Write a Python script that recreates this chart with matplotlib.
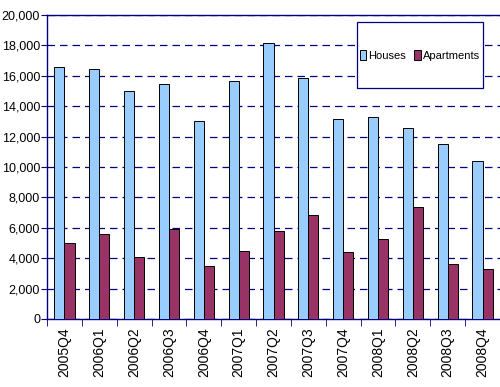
import numpy as np
import matplotlib.pyplot as plt
from matplotlib.patches import Rectangle

quarters = ["2005Q4", "2006Q1", "2006Q2", "2006Q3", "2006Q4", "2007Q1", "2007Q2",
            "2007Q3", "2007Q4", "2008Q1", "2008Q2", "2008Q3", "2008Q4"]
houses = [16600, 16450, 15020, 15480, 13050, 15680, 18180,
          15840, 13160, 13310, 12590, 11540, 10380]
apartments = [5020, 5570, 4060, 5900, 3470, 4470, 5770,
              6840, 4430, 5260, 7350, 3640, 3270]

font = "Liberation Sans"
navy = "#000080"
fig = plt.figure(figsize=(5, 3.87), dpi=100)
ax = fig.add_axes([0.094, 0.176, 0.906, 0.785])

x = np.arange(len(quarters))
w = 0.29
ax.bar(x - w / 2, houses, w, color="#99CCFF", edgecolor="black", linewidth=0.7,
       label="Houses", zorder=3)
ax.bar(x + w / 2, apartments, w, color="#993366", edgecolor="black", linewidth=0.7,
       label="Apartments", zorder=3)

ax.set_xlim(-0.5, len(quarters) - 0.5)
ax.set_ylim(0, 20000)
ax.set_yticks(np.arange(0, 20001, 2000))
ax.set_yticklabels([f"{v:,}" for v in range(0, 20001, 2000)], fontfamily=font, fontsize=9)
ax.yaxis.grid(True, color=navy, linestyle=(0, (6, 4)), linewidth=0.9, zorder=0)

ax.set_xticks(x)
ax.set_xticklabels(quarters, rotation=90, fontsize=10, fontfamily=font)
ax.tick_params(axis="x", length=0, pad=6)
ax.set_xticks(np.arange(-0.5, len(quarters), 1), minor=True)
ax.tick_params(axis="x", which="minor", length=5, color=navy, direction="out")
ax.tick_params(axis="y", length=4, color=navy, pad=1)

for s in ["left", "bottom", "top"]:
    ax.spines[s].set_color(navy)
    ax.spines[s].set_linewidth(1.0)
ax.spines["right"].set_visible(False)

# legend box: white frame covering the grid, legend entries centred inside
ax.add_patch(Rectangle((0.684, 0.760), 0.278, 0.217, transform=ax.transAxes,
                       facecolor="white", edgecolor=navy, linewidth=0.9, zorder=4))
leg = ax.legend(loc="center", bbox_to_anchor=(0.823, 0.868), ncol=2,
                frameon=False, handlelength=0.6, handleheight=1.0,
                handletextpad=0.2, columnspacing=0.7, borderpad=0,
                prop={"family": font, "size": 8})
leg.set_zorder(5)

fig.savefig("out.png", dpi=100)
